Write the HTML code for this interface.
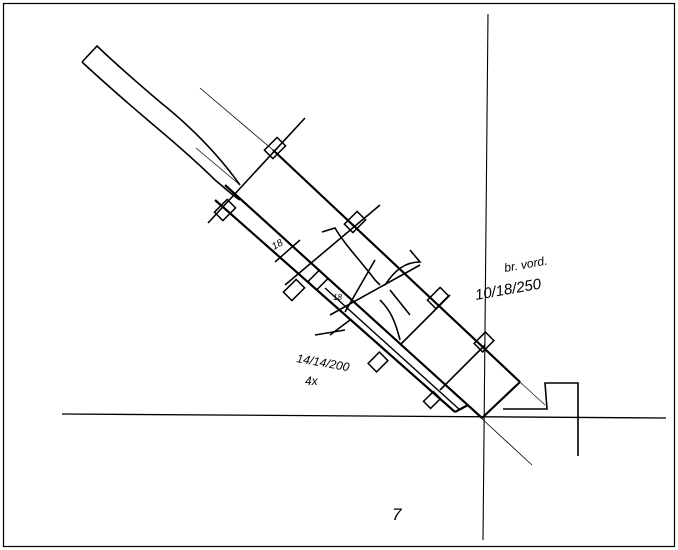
<!DOCTYPE html>
<html><head><style>
body{margin:0;background:#fff;}
svg{display:block;}
text{font-family:"Liberation Sans",sans-serif;font-style:italic;fill:#000;}
</style></head><body>
<svg width="678" height="550" viewBox="0 0 678 550" xmlns="http://www.w3.org/2000/svg">
<rect x="0" y="0" width="678" height="550" fill="#fff"/>
<rect x="3.5" y="3.5" width="671" height="543" fill="none" stroke="#000" stroke-width="1.2"/>
<!-- axes -->
<line x1="62" y1="414" x2="666" y2="418" stroke="#000" stroke-width="1.3"/>
<line x1="488" y1="14" x2="483" y2="540" stroke="#000" stroke-width="1.1"/>
<!-- thin guides -->
<line x1="200" y1="88" x2="273" y2="150" stroke="#000" stroke-width="0.8"/>
<line x1="480" y1="417" x2="532" y2="465" stroke="#000" stroke-width="0.8"/>
<line x1="520" y1="382" x2="545" y2="405" stroke="#000" stroke-width="0.6"/>
<line x1="196" y1="148" x2="240" y2="185" stroke="#000" stroke-width="0.7"/>
<!-- hand beam -->
<path d="M82,62 L97,46 C120,68 140,85 160,102 C185,122 215,150 240,185" fill="none" stroke="#000" stroke-width="1.6"/>
<path d="M82,62 C110,88 130,105 150,122 C175,143 200,165 215,180 C225,188 232,195 240,200" fill="none" stroke="#000" stroke-width="1.6"/>
<!-- wide beam -->
<g stroke="#000" stroke-width="2.2" fill="none">
<line x1="273" y1="150" x2="520" y2="382"/>
<line x1="225" y1="185" x2="482" y2="418"/>
<line x1="520" y1="382" x2="482" y2="418"/>
<line x1="215" y1="200" x2="455" y2="412"/>
<line x1="455" y1="412" x2="468" y2="405"/>
<line x1="325" y1="288" x2="460" y2="410" stroke-width="1.4"/>
</g>
<!-- cross lines -->
<g stroke="#000" stroke-width="1.6" fill="none">
<line x1="208" y1="223" x2="305" y2="118"/>
<line x1="285" y1="285" x2="380" y2="205"/>
<line x1="330" y1="315" x2="420" y2="265"/>
<line x1="400" y1="345" x2="450" y2="295"/>
<line x1="440" y1="390" x2="485" y2="345"/>
<line x1="330" y1="335" x2="350" y2="320"/>
<line x1="345" y1="312" x2="375" y2="260"/>
<path d="M322,232 L335,228 C345,245 360,260 375,280 L380,285"/>
<path d="M385,285 C395,270 405,262 420,262 L410,250"/>
<path d="M380,300 C390,310 395,320 400,340"/>
<line x1="390" y1="290" x2="410" y2="315"/>
</g>
<!-- small boxes -->
<g stroke="#000" stroke-width="1.5" fill="none">
<rect x="-9" y="-6" width="18" height="12" transform="translate(275,148) rotate(-45)"/>
<rect x="-9" y="-6" width="18" height="12" transform="translate(225,210) rotate(-45)"/>
<rect x="-9" y="-6" width="18" height="12" transform="translate(355,222) rotate(-45)"/>
<rect x="-9" y="-6" width="18" height="12" transform="translate(438,298) rotate(-45)"/>
<rect x="-8" y="-6" width="16" height="12" transform="translate(484,342) rotate(-45)"/>
<rect x="-8" y="-6" width="16" height="12" transform="translate(378,362) rotate(-45)"/>
<rect x="-7" y="-5" width="14" height="10" transform="translate(432,400) rotate(-45)"/>
<rect x="-9" y="-6" width="18" height="12" transform="translate(294,290) rotate(-45)"/>
<rect x="-8" y="-6" width="16" height="12" transform="translate(318,280) rotate(-45)"/>
<line x1="275" y1="262" x2="300" y2="240"/>
<line x1="345" y1="330" x2="315" y2="335"/>
</g>
<!-- step shape -->
<path d="M503,409 L547,409 L545,383 L578,383 L578,456" fill="none" stroke="#000" stroke-width="1.6"/>
<!-- labels -->
<text x="505" y="272" font-size="12" transform="rotate(-10 505 272)">br. vord.</text>
<text x="476" y="300" font-size="15" transform="rotate(-10 476 300)">10/18/250</text>
<text x="296" y="362" font-size="12" transform="rotate(10 296 362)">14/14/200</text>
<text x="305" y="385" font-size="12">4x</text>
<text x="392" y="520" font-size="17" font-style="normal">7</text>
<text x="274" y="250" font-size="10" transform="rotate(-30 274 250)">18</text>
<text x="333" y="300" font-size="8">18</text>
</svg>
</body></html>
